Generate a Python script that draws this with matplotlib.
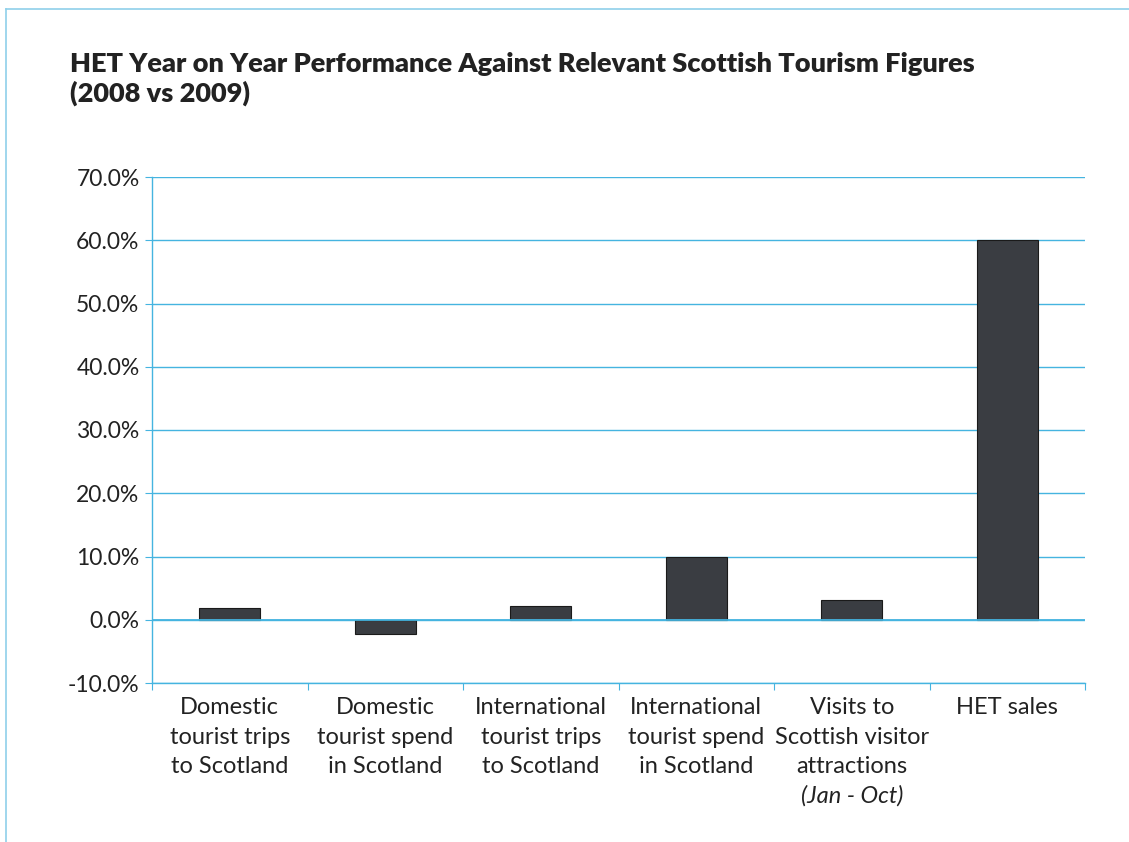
import matplotlib.pyplot as plt
from matplotlib.lines import Line2D
from matplotlib.ticker import FuncFormatter, MultipleLocator
from matplotlib.transforms import blended_transform_factory

# Data
CATEGORIES = [
    "Domestic\ntourist trips\nto Scotland",
    "Domestic\ntourist spend\nin Scotland",
    "International\ntourist trips\nto Scotland",
    "International\ntourist spend\nin Scotland",
    "Visits to\nScottish visitor\nattractions",
    "HET sales",
]
CATEGORY_NOTES = ["", "", "", "", "(Jan - Oct)", ""]
CHANGE_PC = [1.9, -2.2, 2.2, 10.0, 3.2, 60.0]

BLUE = "#45b4e0"
FRAME_BLUE = "#8fd0ea"
BAR_COL = "#3a3d42"
TEXT_COL = "#222222"

plt.rcParams['font.family'] = ['Lato', 'DejaVu Sans']

W, H = 1129, 842
fig = plt.figure(figsize=(W / 100, H / 100), dpi=100)
ax = fig.add_axes([152 / W, 1 - 683 / H, (1085 - 152) / W, (683 - 177) / H])

x = list(range(len(CATEGORIES)))
ax.bar(x, CHANGE_PC, width=0.39, color=BAR_COL, edgecolor="#1a1a1a", linewidth=0.8, zorder=3)

ax.set_xlim(-0.5, len(CATEGORIES) - 0.5)
ax.set_ylim(-10, 70)
ax.yaxis.set_major_locator(MultipleLocator(10))
ax.yaxis.set_major_formatter(FuncFormatter(lambda v, p: f"{v:.1f}%"))
ax.grid(axis="y", color=BLUE, linewidth=1.0, zorder=0)
ax.axhline(0, color=BLUE, linewidth=1.3, zorder=4)

# category ticks at the boundaries
ax.set_xticks([i - 0.5 for i in range(len(CATEGORIES) + 1)])
ax.set_xticklabels([])
ax.tick_params(axis="x", which="major", length=5, color=BLUE, direction="out")
ax.tick_params(axis="y", length=5, color=BLUE, labelsize=16.5, labelcolor=TEXT_COL, pad=4)

# category labels, one line at a time so the date note can be italic
trans = blended_transform_factory(ax.transData, fig.transFigure)
line_h = 29.3 / H
top = 1 - 708 / H
for i, (lab, note) in enumerate(zip(CATEGORIES, CATEGORY_NOTES)):
    lines = lab.split("\n")
    for j, line in enumerate(lines):
        ax.text(i, top - j * line_h, line, transform=trans, ha="center", va="center",
                fontsize=17, color=TEXT_COL)
    if note:
        ax.text(i, top - len(lines) * line_h, note, transform=trans, ha="center", va="center",
                fontsize=17, color=TEXT_COL, style="italic")

for side in ["top", "right"]:
    ax.spines[side].set_visible(False)
for side in ["left", "bottom"]:
    ax.spines[side].set_color(BLUE)
    ax.spines[side].set_linewidth(1.0)

# Title
fig.text(70 / W, 1 - 52 / H, "HET Year on Year Performance Against Relevant Scottish Tourism Figures\n(2008 vs 2009)",
         fontsize=19.5, fontweight="heavy", color=TEXT_COL, ha="left", va="top", linespacing=1.2)

# Light blue frame lines (top and left only)
fig.add_artist(Line2D([6 / W, 1], [1 - 9 / H, 1 - 9 / H], transform=fig.transFigure, color=FRAME_BLUE, linewidth=1.2))
fig.add_artist(Line2D([6 / W, 6 / W], [0, 1 - 9 / H], transform=fig.transFigure, color=FRAME_BLUE, linewidth=1.2))

fig.savefig("out.png", dpi=100)
